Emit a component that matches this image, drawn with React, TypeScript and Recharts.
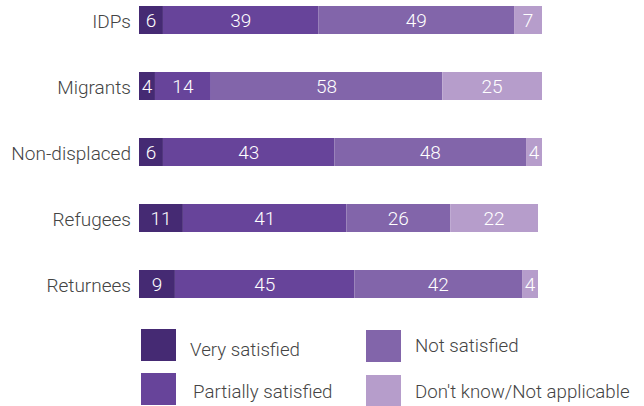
import { BarChart, Bar, XAxis, YAxis, LabelList } from "recharts";

const groups = ["IDPs", "Migrants", "Non-displaced", "Refugees", "Returnees"];
const verySatisfied = [6, 4, 6, 11, 9];
const partiallySatisfied = [39, 14, 43, 41, 45];
const notSatisfied = [49, 58, 48, 26, 42];
const dontKnow = [7, 25, 4, 22, 4];

const seriesNames = ["Very satisfied", "Partially satisfied", "Not satisfied", "Don't know/Not applicable"];
const colors = ["#452a73", "#67449a", "#8265aa", "#b69dcb"];

const data = groups.map((g, i) => ({
  group: g,
  very: verySatisfied[i],
  partial: partiallySatisfied[i],
  not: notSatisfied[i],
  dk: dontKnow[i],
}));

const font = "Roboto, 'Open Sans', sans-serif";
const keys = ["very", "partial", "not", "dk"];

function LegendItem({ name, color, left, top, textLeft, textTop }: any) {
  return (
    <>
      <div style={{ position: "absolute", left, top, width: 35, height: 32, background: color }} />
      <div
        style={{
          position: "absolute",
          left: textLeft,
          top: textTop,
          fontFamily: font,
          fontWeight: 300,
          fontSize: 18.7,
          color: "#444",
          whiteSpace: "nowrap",
          lineHeight: "20px",
        }}
      >
        {name}
      </div>
    </>
  );
}

export default function App() {
  return (
    <div style={{ position: "absolute", left: 0, top: 0, width: 644, height: 406, overflow: "hidden", background: "#fff" }}>
      <div style={{ position: "absolute", left: 0, top: -13 }}>
        <BarChart
          width={644}
          height={330}
          data={data}
          layout="vertical"
          margin={{ top: 0, right: 102, bottom: 0, left: 0 }}
          barSize={28}
        >
          <XAxis type="number" domain={[0, 101]} hide />
          <YAxis
            type="category"
            dataKey="group"
            width={139}
            axisLine={false}
            tickLine={false}
            tickMargin={2}
            tick={{ fill: "#444", fontSize: 19, fontFamily: font, fontWeight: 300, dy: 1 }}
          />
          {keys.map((k, i) => (
            <Bar key={k} dataKey={k} name={seriesNames[i]} stackId="a" fill={colors[i]} isAnimationActive={false}>
              <LabelList
                dataKey={k}
                position="center"
                fill="#fff"
                style={{ fontSize: 19, fontFamily: font, fontWeight: 300 }}
              />
            </Bar>
          ))}
        </BarChart>
      </div>
      <LegendItem name={seriesNames[0]} color={colors[0]} left={141} top={329} textLeft={190} textTop={340} />
      <LegendItem name={seriesNames[1]} color={colors[1]} left={141} top={373} textLeft={193} textTop={382} />
      <LegendItem name={seriesNames[2]} color={colors[2]} left={366} top={330} textLeft={415} textTop={336} />
      <LegendItem name={seriesNames[3]} color={colors[3]} left={366} top={375} textLeft={415} textTop={382} />
    </div>
  );
}
